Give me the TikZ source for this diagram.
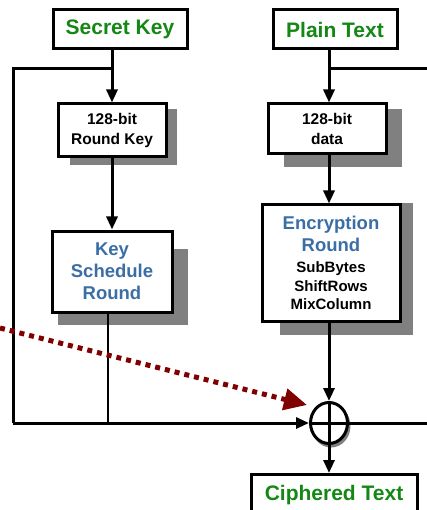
\documentclass[tikz,border=0pt]{standalone}
\usepackage{fontspec}
\setmainfont{Liberation Sans}
\usetikzlibrary{arrows.meta,shapes.geometric,backgrounds,calc}
\definecolor{tgreen}{RGB}{20,135,20}
\definecolor{tblue}{RGB}{58,110,165}
\definecolor{dred}{RGB}{128,0,0}
\definecolor{shadowgray}{RGB}{128,128,128}
\begin{document}
\begin{tikzpicture}[x=1pt,y=-1pt,
  box/.style={draw,line width=3pt,fill=white,inner sep=0pt,align=center},
  big/.style={font=\bfseries\fontsize{21}{25}\selectfont,text=tgreen},
  small/.style={font=\bfseries\fontsize{15.5}{20}\selectfont},
  blue/.style={font=\bfseries\fontsize{18.5}{22}\selectfont,text=tblue},
  shadowfill/.style={fill=shadowgray},
  conn/.style={line width=3pt},
  arr/.style={conn,-{Triangle[width=11pt,length=13pt]}},
  dotarr/.style={dred,line width=5pt,dash pattern=on 5pt off 5pt,-{Triangle[width=21pt,length=23pt]}}
]
\useasboundingbox (0,0) rectangle (427,510);

\node[box,big,minimum width=134pt,minimum height=39pt] (sk) at (120,29.5) {Secret Key};
\node[box,big,minimum width=124pt,minimum height=39pt] (pt) at (335,29.5) {Plain Text};
\node[box,small,minimum width=108pt,minimum height=53pt] (rk) at (112,130.5) {128-bit\\Round Key};
\node[box,small,minimum width=118pt,minimum height=50pt] (dt) at (327,129) {128-bit\\data};
\node[box,blue,minimum width=120pt,minimum height=81pt] (ks) at (112,271.5) {Key\\Schedule\\Round};
\node[box,minimum width=138pt,minimum height=116pt,font=\bfseries\fontsize{15}{19}\selectfont] (er) at (331,263)
  {{\fontsize{18.5}{22}\selectfont\color{tblue}Encryption}\\[3pt]
   {\fontsize{18.5}{22}\selectfont\color{tblue}Round}\\[2pt]
   SubBytes\\
   ShiftRows\\[-1pt]
   MixColumn};
\node[ellipse,draw,line width=3pt,fill=white,inner sep=0pt,minimum width=37pt,minimum height=41pt] (x) at (329,423) {};
\node[box,big,minimum width=166pt,minimum height=42pt,anchor=north] (ct) at (334,473) {Ciphered Text};

\begin{scope}[on background layer]
  \fill[shadowfill] ($(rk.north west)+(13,7)$) rectangle ($(rk.south east)+(9,7)$);
  \fill[shadowfill] ($(dt.north west)+(17,7)$) rectangle ($(dt.south east)+(14,12)$);
  \fill[shadowfill] ($(ks.north west)+(7,19)$) rectangle ($(ks.south east)+(14,11)$);
  \fill[shadowfill] ($(er.north west)+(19,0)$) rectangle ($(er.south east)+(11,12)$);
  \fill[shadowfill] ($(x.center)+(2,3)$) ellipse [x radius=19.5pt, y radius=21.5pt];
\end{scope}

\draw[conn] (x.north) -- (x.south);
\draw[conn] (x.west) -- (x.east);

\coordinate (lt) at (13,69);
\coordinate (rt) at (427,69);
\coordinate (re) at (427,423);
\coordinate (ko) at (108,0);
\coordinate (ds) at (0,328);
\coordinate (de) at (307,405);

\draw[conn] (lt |- x) -- (lt) -- (rk.north |- lt);
\draw[arr] (sk.south -| rk) -- (rk.north);
\draw[arr] (rk.south) -- (ks.north);
\draw[conn] (rt) -- (rt -| x);
\draw[arr] (pt.south -| x) -- (dt.north -| x);
\draw[arr] (dt.south -| x) -- (er.north -| x);
\draw[arr] (er.south -| x) -- (x.north);
\draw[arr] (lt |- x) -- (x.west);
\draw[conn] (x.east) -- (re);
\draw[line width=2.5pt] (ks.south -| ko) -- (ko |- x);
\draw[arr] (x.south) -- (ct.north -| x);
\draw[dotarr] (ds) -- (de);
\end{tikzpicture}
\end{document}
